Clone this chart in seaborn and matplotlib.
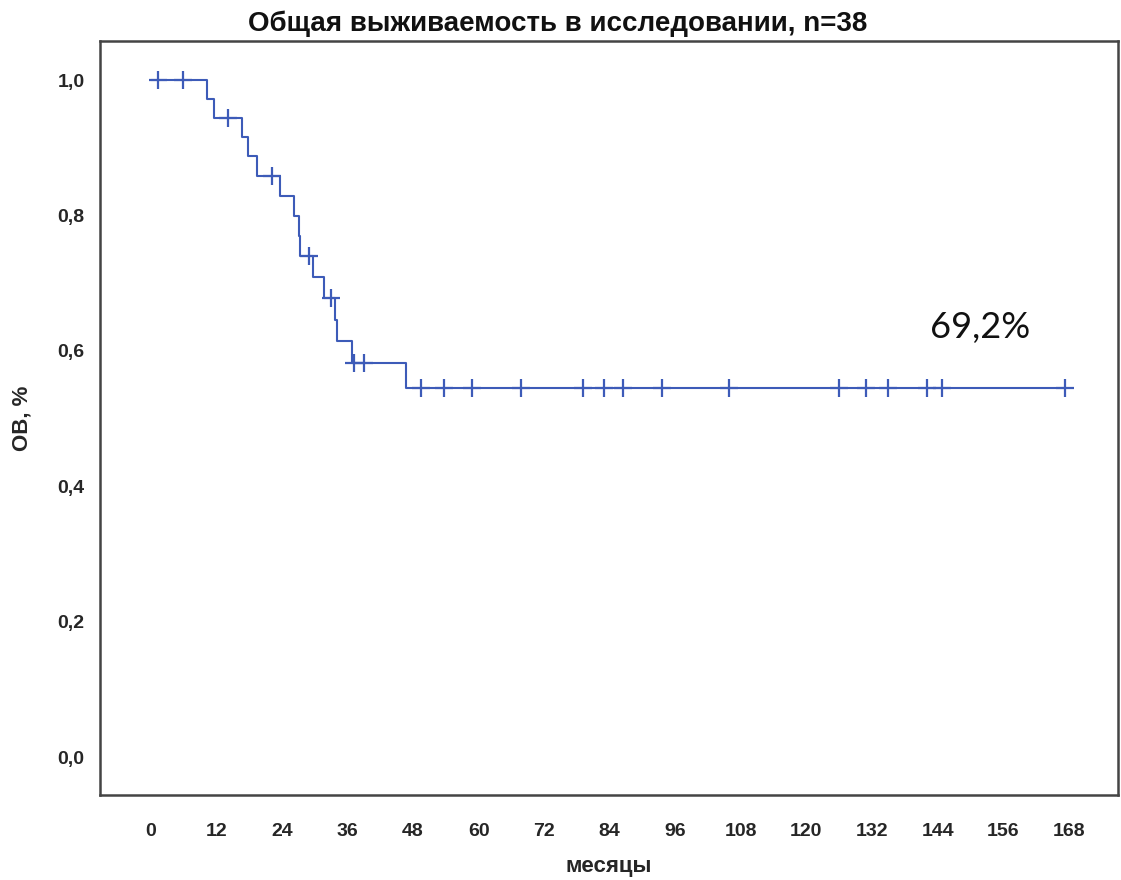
import numpy as np
import pandas as pd
import matplotlib
matplotlib.use("Agg")
import matplotlib.pyplot as plt
import seaborn as sns

# months to event / censoring, n=38
times = [1.3, 5.9, 10.3, 11.5, 14.2, 16.7, 17.8, 19.4, 22.1, 23.6, 26.2, 27.1,
         27.3, 29.0, 29.6, 31.7, 33.0, 33.7, 34.0, 36.9, 37.1, 39.1, 46.7,
         49.5, 53.7, 58.8, 67.8, 79.1, 83.0, 86.5, 93.6, 105.8, 126.0, 130.9,
         134.9, 142.0, 144.9, 167.4]
# 1 = death, 0 = censored
events = [0, 0, 1, 1, 0, 1, 1, 1, 0, 1, 1, 1,
          1, 0, 1, 1, 0, 1, 1, 1, 0, 0, 1,
          0, 0, 0, 0, 0, 0, 0, 0, 0, 0, 0,
          0, 0, 0, 0]

title = "Общая выживаемость в исследовании, n=38"
xlabel = "месяцы"
ylabel = "ОВ, %"
note = "69,2%"
xticks = list(range(0, 169, 12))
yticks = [0.0, 0.2, 0.4, 0.6, 0.8, 1.0]

# Kaplan-Meier
df = pd.DataFrame({"t": times, "e": events}).sort_values("t").reset_index(drop=True)
at_risk = len(df)
s = 1.0
step_t = [0.0]
step_s = [1.0]
cens_t, cens_s = [], []
for _, row in df.iterrows():
    if row["e"] == 1:
        s = s * (at_risk - 1) / at_risk
        step_t.append(row["t"])
        step_s.append(s)
    else:
        cens_t.append(row["t"])
        cens_s.append(s)
    at_risk -= 1
step_t.append(df["t"].max())
step_s.append(s)

km = pd.DataFrame({"t": step_t, "s": step_s})
cens = pd.DataFrame({"t": cens_t, "s": cens_s})

sns.set_style("white")
plt.rcParams["font.family"] = ["Liberation Sans", "DejaVu Sans"]

fig = plt.figure(figsize=(11.21, 8.8), dpi=100)
ax = fig.add_axes([0.0892, 0.0966, 0.908, 0.8568])

col = "#3d5bb8"
sns.lineplot(data=km, x="t", y="s", ax=ax, estimator=None, sort=False,
             drawstyle="steps-post", color=col, linewidth=1.5)
sns.scatterplot(data=cens, x="t", y="s", ax=ax, marker="+", s=150,
                color=col, linewidth=1.6, zorder=3)

ax.set_xlim(-9.3, 177)
ax.set_ylim(-0.056, 1.0576)
ax.set_xticks(xticks)
ax.set_xticklabels([str(v) for v in xticks])
ax.set_yticks(yticks)
ax.set_yticklabels([f"{v:.1f}".replace(".", ",") for v in yticks])
ax.tick_params(axis="both", direction="out", length=8, width=1.5, color="#333333",
               labelsize=14)
ax.tick_params(axis="x", pad=12)
ax.tick_params(axis="y", pad=3)
for lab in ax.get_xticklabels() + ax.get_yticklabels():
    lab.set_fontweight("bold")

for sp in ax.spines.values():
    sp.set_visible(True)
    sp.set_color("#444444")
    sp.set_linewidth(1.8)

ax.set_xlabel(xlabel, fontsize=16, fontweight="bold", labelpad=12)
ax.set_ylabel(ylabel, fontsize=16, fontweight="bold", labelpad=18)
ax.set_title(title, fontsize=20, fontweight="bold", pad=7, x=0.45,
             color="#111111")

ax.text(151.8, 0.634, note, ha="center", va="center", fontsize=26,
        family=["Lato", "DejaVu Sans"], color="#111111")

fig.savefig("out.png", dpi=100)
